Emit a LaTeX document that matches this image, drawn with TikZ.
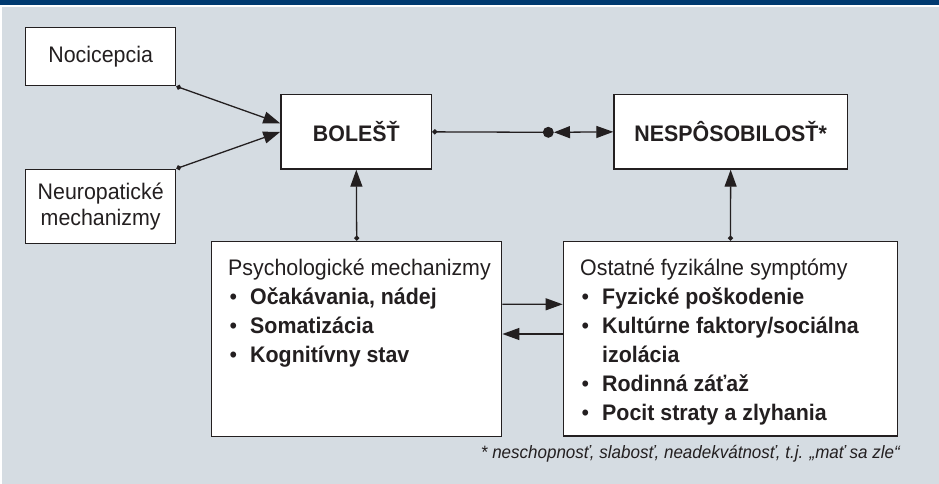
\documentclass[tikz,border=0pt]{standalone}
\usepackage{fontspec}
\setmainfont{Liberation Sans}[FakeStretch=0.95]
\usetikzlibrary{arrows.meta,calc}
\definecolor{bggrey}{HTML}{D5DCE2}
\definecolor{hdrblue}{HTML}{003A70}
\definecolor{ink}{HTML}{231F20}
\newcommand{\bitem}[1]{\makebox[22pt][l]{\hspace{1.5pt}•}\textbf{#1}}
\begin{document}
\begin{tikzpicture}[x=1pt,y=-1pt,
  box/.style={draw=ink, line width=1.4pt, fill=white, inner sep=0pt},
  lbl/.style={font=\fontsize{22.5}{26}\selectfont, text=ink},
  conn/.style={draw=ink, line width=1.3pt},
  fwd/.style={conn, {Circle[length=5pt]}-{Triangle[length=17pt,width=12pt]}},
  plain/.style={conn, -{Triangle[length=17pt,width=12pt]}},
  both/.style={conn, {Triangle[length=16pt,width=12pt]}-{Triangle[length=17pt,width=12pt]}},
  lst/.style={font=\fontsize{22.5}{29}\selectfont, text=ink, anchor=base west, inner sep=0pt}
]
\useasboundingbox (0,0) rectangle (939,484);
\fill[white] (0,0) rectangle (939,484);
\fill[bggrey] (2,6.7) rectangle (939,484);
\fill[hdrblue] (0,0) rectangle (939,4.7);

\node[box, minimum width=150pt, minimum height=58.4pt, lbl] (noc) at (100.7,56.5) {Nocicepcia};
\node[box, minimum width=150pt, minimum height=74pt, lbl, align=center] (neu) at (100.7,206.3) {Neuropatické\\mechanizmy};
\node[box, minimum width=150.7pt, minimum height=74.3pt, lbl, font=\fontsize{22.5}{26}\selectfont\bfseries] (bol) at (356.3,131.85) {BOLEŠŤ};
\node[box, minimum width=233.3pt, minimum height=74.3pt, lbl, font=\fontsize{22.5}{26}\selectfont\bfseries] (nes) at (730.65,131.85) {NESPÔSOBILOSŤ*};
\node[box, minimum width=290pt, minimum height=195.4pt] (psy) at (356.7,339) {};
\node[box, minimum width=334.4pt, minimum height=194.7pt] (ost) at (730.5,338.65) {};

\node[lst] (psyt) at (228,275) {\begin{tabular}[t]{@{}l@{}}Psychologické mechanizmy\\
\bitem{Očakávania, nádej}\\ \bitem{Somatizácia}\\ \bitem{Kognitívny stav}\end{tabular}};
\node[lst] (ostt) at (580,275) {\begin{tabular}[t]{@{}l@{}}Ostatné fyzikálne symptómy\\
\bitem{Fyzické poškodenie}\\ \bitem{Kultúrne faktory/sociálna}\\ \hspace{22pt}\textbf{izolácia}\\
\bitem{Rodinná záťaž}\\ \bitem{Pocit straty a zlyhania}\end{tabular}};

\node[circle, fill=ink, inner sep=0pt, minimum size=11pt] (bd) at (548.3,132.3) {};

\coordinate (bin1) at ($(bol.west)+(0,-8.5)$);
\draw[fwd] (noc.south east) -- (bin1);
\draw[fwd] (neu.north east) -- (bol.west);
\draw[conn, {Circle[length=5pt]}-] (bol.east) -- (bd.center);
\draw[both] (bd.east) -- (nes.west);
\draw[fwd] (psy.north) -- (bol.south);
\draw[fwd] (ost.north) -- (nes.south);
\coordinate (pr) at ($(psy.east)+(0,-34.7)$);
\coordinate (or) at ($(ost.west)+(0,-34.35)$);
\draw[plain] (pr) -- (or);
\coordinate (pl) at ($(psy.east)+(0,-5)$);
\coordinate (ol) at ($(ost.west)+(0,-4.65)$);
\draw[plain] (ol) -- (pl);

\node[anchor=base east, inner sep=0pt, text=ink, font=\itshape\fontsize{17.9}{21}\selectfont] (fn) at (900,458) {* neschopnosť, slabosť, neadekvátnosť, t.j. „mať sa zle“};
\end{tikzpicture}
\end{document}
